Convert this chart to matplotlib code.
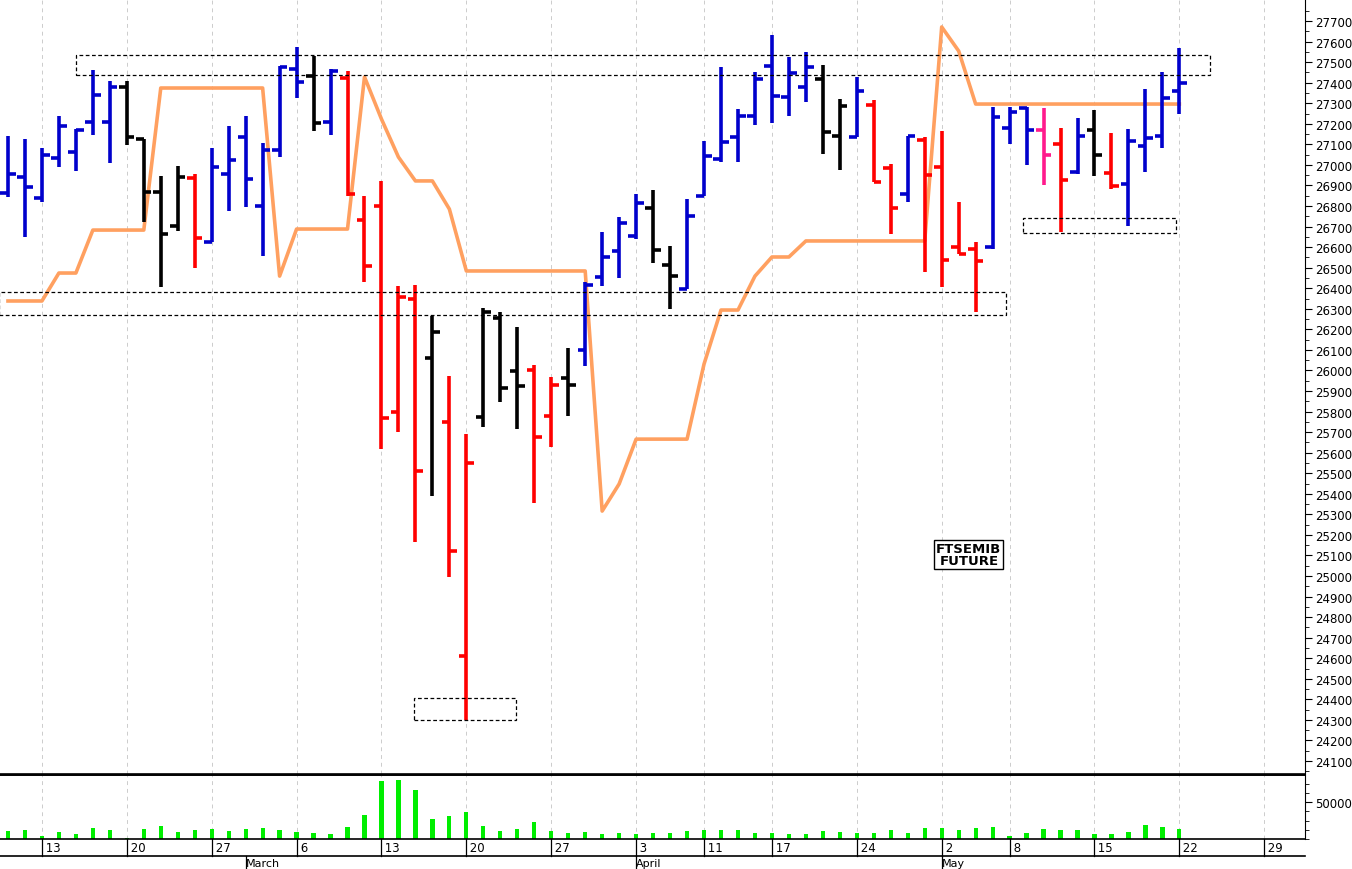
import matplotlib
matplotlib.use("Agg")
import matplotlib.pyplot as plt
import matplotlib.transforms as mtransforms
from matplotlib.patches import Rectangle

high = [27141,27126,27082,27238,27175,27462,27408,27408,27126,26946,26995,26956,27082,27189,27238,27106,27481,27573,27530,27466,27457,
        26849,26922,26411,26416,26265,25973,25691,26304,26284,26211,26026,25968,26109,26430,26673,26746,26858,26878,26605,26834,
        27116,27476,27272,27452,27632,27525,27549,27486,27321,27428,27316,27004,27141,27136,27165,26819,26625,27282,27282,27282,
        27277,27179,27228,27267,27155,27175,27369,27452,27569]
low = [26844,26649,26819,26990,26970,27145,27009,27097,26722,26406,26678,26498,26625,26776,26795,26557,27038,27325,27165,27145,26849,
       26430,25618,25700,25165,25389,24995,24300,25725,25846,25715,25355,25627,25778,26022,26411,26450,26639,26523,26299,26396,
       26849,27014,27014,27194,27204,27238,27306,27053,26975,27136,26917,26664,26819,26479,26406,26566,26284,26591,27102,27000,
       26902,26673,26956,26946,26883,26703,26965,27082,27247]
open_ = [26863,26941,26839,27033,27063,27209,27209,27379,27126,26868,26703,26936,26625,26956,27136,26800,27072,27466,27432,27209,27423,
         26732,26800,25798,26348,26060,25749,24610,25774,26255,25997,26003,25778,25963,26099,26455,26581,26654,26790,26513,26396,
         26849,27029,27136,27238,27481,27330,27379,27418,27141,27136,27291,26985,26858,27121,26990,26601,26591,26601,27179,27277,
         27170,27102,26965,27170,26961,26907,27092,27141,27359]
close = [26956,26892,27048,27189,27170,27340,27379,27136,26868,26664,26941,26644,26990,27024,26931,27072,27476,27403,27204,27457,26858,
         26508,25769,26357,25511,26187,25122,25550,26284,25915,25924,25676,25929,25929,26416,26552,26717,26815,26586,26459,26751,
         27043,27111,27238,27418,27335,27447,27476,27160,27286,27359,26917,26790,27141,26951,26537,26566,26532,27233,27257,27170,
         27048,26926,27141,27048,26897,27116,27131,27325,27398]
bar_colors = (["blue"]*7 + ["black"]*4 + ["red"] + ["blue"]*6 + ["black", "blue", "red"] +
              ["red"]*4 + ["black", "red", "red", "black", "black", "black", "red", "red", "black"] + ["blue"]*4 +
              ["black", "black"] + ["blue"]*8 + ["black", "black", "blue", "red", "red", "blue", "red", "red", "red", "red"] +
              ["blue"]*3 + ["pink", "red", "blue", "black", "red"] + ["blue"]*4)
volume = [11300,12200,3600,9000,6300,14400,12600,1400,13500,17100,9500,11700,14000,10800,13100,14400,11700,9000,7700,6800,15800,
          32400,77900,80200,66200,27000,31500,36000,17600,10400,13100,23000,11300,8100,9500,6800,8100,6300,8100,8100,10800,
          12200,11700,12200,8100,7700,6800,6800,10800,9500,7700,8100,12200,8100,14400,14400,11700,14400,15800,3600,8100,
          13100,11700,12200,6300,6300,9900,19400,15800,13500]
trail = ([26338]*3 + [26474]*2 + [26683]*4 + [27374]*7 + [26459] + [26688]*4 + [27428, 27223, 27038, 26922, 26922, 26785] +
         [26484]*8 + [25316, 25448] + [25666]*4 + [26031, 26294, 26294, 26459, 26552, 26552] + [26630]*8 +
         [27671, 27554] + [27296]*13)
week_ticks = [2, 7, 12, 17, 22, 27, 32, 37, 41, 45, 50, 55, 59, 64, 69, 74]
week_labels = ["13", "20", "27", "6", "13", "20", "27", "3", "11", "17", "24", "2", "8", "15", "22", "29"]
month_ticks = [14, 37, 55]
month_labels = ["March", "April", "May"]
# annotation boxes: (x0, x1, price_lo, price_hi)
boxes = [(3.98, 70.8, 27437, 27535), (-0.5, 58.8, 26270, 26382), (23.9, 29.9, 24300, 24407), (59.8, 68.8, 26669, 26742)]

cmap = {"blue": "#0000CC", "black": "#000000", "red": "#FF0000", "pink": "#FF1A8C"}
W, H = 1352, 870
fig = plt.figure(figsize=(W/100, H/100), dpi=100)
ax = fig.add_axes([0, 1-775/H, 1305/W, 775/H])
axv = fig.add_axes([0, 1-840/H, 1305/W, 64/H], sharex=ax)

n = len(high)
xs = list(range(n))
for i in xs:
    c = cmap[bar_colors[i]]
    ax.vlines(i, low[i], high[i], color=c, lw=2.6, zorder=3)
    ax.hlines(open_[i], i-0.45, i, color=c, lw=2.6, zorder=3)
    ax.hlines(close[i], i, i+0.45, color=c, lw=2.6, zorder=3)
ax.plot(xs, trail, color="#FFA060", lw=2.6, zorder=2)
for x0, x1, lo, hi in boxes:
    ax.add_patch(Rectangle((x0, lo), x1-x0, hi-lo, fill=False, ls=(0, (3, 2)), lw=0.9, ec="black", zorder=4))
ax.text(56.6, 25105, "FTSEMIB\nFUTURE", ha="center", va="center", fontsize=9.5, fontweight="bold",
        family="DejaVu Sans", linespacing=0.95,
        bbox=dict(boxstyle="square,pad=0.15", fc="white", ec="black", lw=1))

xmin, xmax = -0.47, 76.4
ax.set_xlim(xmin, xmax)
ax.set_ylim(24037, 27807)
ax.yaxis.tick_right()
ax.set_yticks(range(24100, 27701, 100))
ax.set_yticks(range(24050, 27751, 50), minor=True)
ax.tick_params(axis="y", labelsize=8.5, length=5, width=0.8, pad=2)
ax.tick_params(axis="y", which="minor", length=3)
ax.tick_params(axis="x", bottom=False, labelbottom=False)
for s in ["left", "top"]:
    ax.spines[s].set_visible(False)
ax.spines["bottom"].set_linewidth(1.2)
for t in week_ticks:
    ax.axvline(t, color="#cccccc", ls=(0, (4, 4)), lw=0.7, zorder=0)
    axv.axvline(t, color="#cccccc", ls=(0, (4, 4)), lw=0.7, zorder=0)

axv.bar(xs, volume, width=0.25, color="#00EE00")
axv.set_ylim(0, 86500)
axv.yaxis.tick_right()
axv.set_yticks([50000])
axv.set_yticks(range(0, 86001, 12500), minor=True)
axv.tick_params(axis="y", labelsize=8.5, length=5, pad=2)
axv.tick_params(axis="y", which="minor", length=3)
axv.tick_params(axis="x", bottom=False, labelbottom=False)
axv.spines["left"].set_visible(False)
axv.spines["top"].set_linewidth(1.4)
axv.spines["bottom"].set_linewidth(1.2)

tr = mtransforms.blended_transform_factory(axv.transData, fig.transFigure)
y_row1 = 1-840/H
y_row2 = 1-857/H
fig.lines.append(plt.Line2D([0, 1305/W], [y_row2, y_row2], transform=fig.transFigure, color="black", lw=1.2))
for t, lab in zip(week_ticks, week_labels):
    fig.lines.append(plt.Line2D([t, t], [y_row1, y_row2], transform=tr, color="black", lw=0.9))
    fig.text(t, (y_row1+y_row2)/2, " " + lab, transform=tr, ha="left", va="center", fontsize=8.5)
for t, lab in zip(month_ticks, month_labels):
    fig.lines.append(plt.Line2D([t, t], [y_row2, 0], transform=tr, color="black", lw=0.9))
    fig.text(t, 1-864/H, lab, transform=tr, ha="left", va="center", fontsize=8)

fig.savefig("out.png", dpi=100)
